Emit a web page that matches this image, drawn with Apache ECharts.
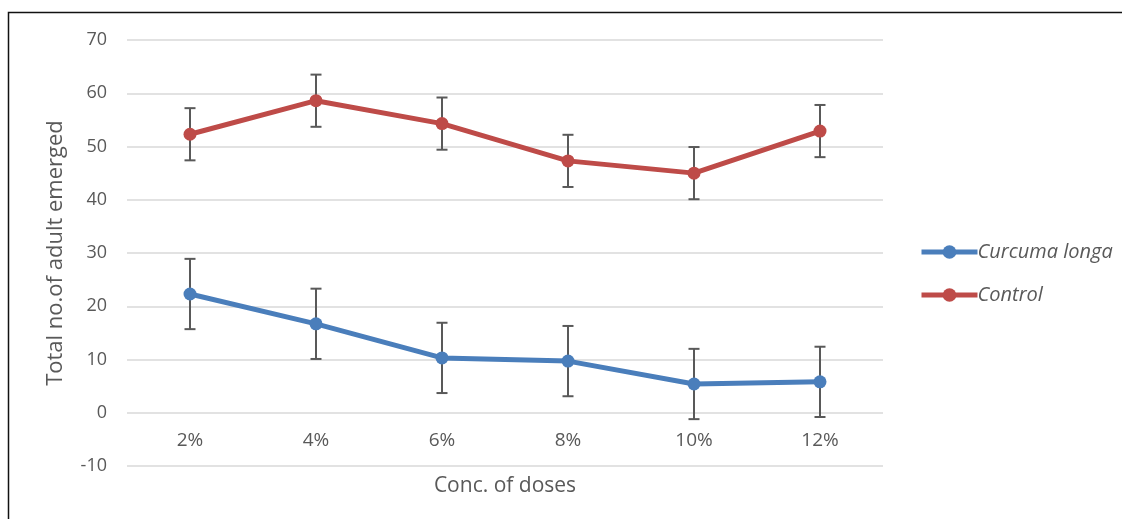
<!DOCTYPE html>
<html><head><meta charset="utf-8">
<script src="https://cdn.jsdelivr.net/npm/echarts@6/dist/echarts.min.js"></script>
<style>html,body{margin:0;padding:0;background:#fff}#c{width:1122px;height:519px}</style>
</head><body><div id="c"></div>
<script>
const categories = ['2%','4%','6%','8%','10%','12%'];
const curcumaMean = [22.3, 16.7, 10.3, 9.7, 5.4, 5.8];
const curcumaErr = [6.6, 6.6, 6.6, 6.6, 6.6, 6.6];
const controlMean = [52.3, 58.6, 54.3, 47.3, 45.0, 52.9];
const controlErr = [4.9, 4.9, 4.9, 4.9, 4.9, 4.9];
const yTicks = {min: -10, max: 70, interval: 10};

const txt = '#595959';
const font = '"Open Sans", "DejaVu Sans", sans-serif';

function errSeries(mean, err){
  return {
    type: 'custom',
    data: mean.map((m,i)=>[i, m - err[i], m + err[i]]),
    z: 1,
    silent: true,
    renderItem: function(params, api){
      const lo = api.coord([api.value(0), api.value(1)]);
      const hi = api.coord([api.value(0), api.value(2)]);
      const w = 5.5;
      const st = {stroke: '#595959', lineWidth: 2};
      return {type: 'group', children: [
        {type:'line', shape:{x1:lo[0],y1:lo[1],x2:hi[0],y2:hi[1]}, style:st},
        {type:'line', shape:{x1:lo[0]-w,y1:lo[1],x2:lo[0]+w,y2:lo[1]}, style:st},
        {type:'line', shape:{x1:hi[0]-w,y1:hi[1],x2:hi[0]+w,y2:hi[1]}, style:st}
      ]};
    }
  };
}

const chart = echarts.init(document.getElementById('c'), null, {renderer:'canvas'});
chart.setOption({
  animation: false,
  textStyle: {fontFamily: font},
  graphic: [{type:'rect', shape:{x:8.5, y:12.5, width:1130, height:520}, style:{fill:'none', stroke:'#111', lineWidth:1.5}, silent:true}],
  grid: {left: 127, right: 239, top: 40, bottom: 53, containLabel: false, outerBoundsMode: 'none'},
  legend: {
    orient: 'vertical', left: 914, top: 237, itemGap: 23, itemWidth: 56, itemHeight: 17,
    data: ['Curcuma longa','Control'],
    lineStyle: {width: 5},
    textStyle: {color: txt, fontSize: 20, fontStyle: 'italic', fontFamily: font, padding:[0,0,0,-5]}
  },
  xAxis: {
    type: 'category', data: categories, boundaryGap: true,
    axisLine: {show: false}, axisTick: {show: false},
    axisLabel: {color: txt, fontSize: 19, margin: -35},
    name: 'Conc. of doses', nameLocation: 'middle', nameGap: 10,
    nameTextStyle: {color: txt, fontSize: 21}
  },
  yAxis: {
    type: 'value', min: yTicks.min, max: yTicks.max, interval: yTicks.interval,
    axisLine: {show:false}, axisTick: {show:false},
    axisLabel: {color: txt, fontSize: 18, margin: 20},
    splitLine: {lineStyle: {color: '#d9d9d9', width: 1.5}},
    name: 'Total no.of adult emerged', nameLocation: 'middle', nameGap: 60,
    nameTextStyle: {color: txt, fontSize: 22}
  },
  series: [
    errSeries(curcumaMean, curcumaErr),
    errSeries(controlMean, controlErr),
    {name: 'Curcuma longa', type: 'line', data: curcumaMean, z: 3,
     symbol: 'circle', symbolSize: 13, color: '#4A7EBB',
     lineStyle: {width: 5, color: '#4A7EBB'}, itemStyle: {color: '#4A7EBB'}},
    {name: 'Control', type: 'line', data: controlMean, z: 3,
     symbol: 'circle', symbolSize: 13, color: '#BE4B48',
     lineStyle: {width: 5, color: '#BE4B48'}, itemStyle: {color: '#BE4B48'}}
  ]
});
</script></body></html>
